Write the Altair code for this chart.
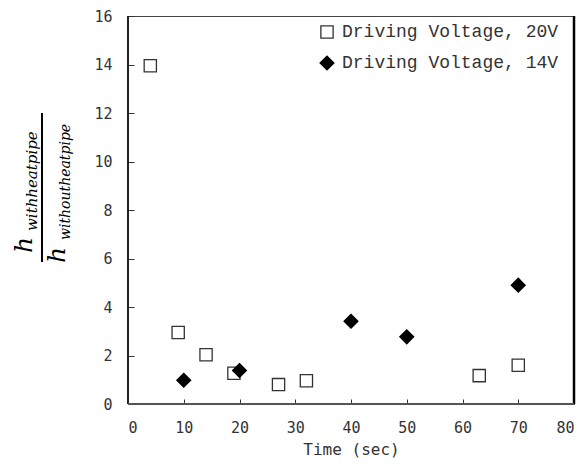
import altair as alt
import pandas as pd

# ---- data ----
time_20v = [4, 9, 14, 19, 27, 32, 63, 70]
ratio_20v = [13.95, 2.95, 2.03, 1.27, 0.80, 0.96, 1.17, 1.60]
time_14v = [10, 20, 40, 50, 70]
ratio_14v = [0.98, 1.38, 3.41, 2.77, 4.90]
series_labels = ["Driving Voltage, 20V", "Driving Voltage, 14V"]
x_ticks = list(range(0, 81, 10))
y_ticks = list(range(0, 17, 2))

df = pd.DataFrame({
    "time": time_20v + time_14v,
    "ratio": ratio_20v + ratio_14v,
    "series": [series_labels[0]] * len(time_20v) + [series_labels[1]] * len(time_14v),
})

W, H = 446, 388
TOP = 8

x_enc = alt.X("time:Q", scale=alt.Scale(domain=[0, 80], nice=False),
              axis=alt.Axis(values=x_ticks, title="Time (sec)", grid=False, domain=False,
                            orient="bottom", offset=-5, tickSize=5, tickColor="#333",
                            labelPadding=16, labelFont="DejaVu Sans Mono", labelFontSize=15,
                            labelColor="#333", titleFont="DejaVu Sans Mono", titleFontSize=16,
                            titleFontWeight="normal", titleColor="#333", titlePadding=6))
y_enc = alt.Y("ratio:Q", scale=alt.Scale(domain=[0, 16], nice=False),
              axis=alt.Axis(values=y_ticks, title=None, grid=False, domain=False,
                            orient="left", offset=-6, tickSize=6, tickColor="#333",
                            labelPadding=16, labelFont="DejaVu Sans Mono", labelFontSize=15,
                            labelColor="#333"))

points = alt.Chart(df).mark_point(filled=True, opacity=1, strokeWidth=1.3).encode(
    x=x_enc,
    y=y_enc,
    shape=alt.Shape("series:N", scale=alt.Scale(domain=series_labels, range=["square", "diamond"]),
                    legend=alt.Legend(title=None)),
    fill=alt.Fill("series:N", scale=alt.Scale(domain=series_labels, range=["white", "black"]),
                  legend=alt.Legend(title=None)),
    stroke=alt.Stroke("series:N", scale=alt.Scale(domain=series_labels, range=["#333333", "black"]),
                      legend=alt.Legend(title=None)),
    size=alt.Size("series:N", scale=alt.Scale(domain=series_labels, range=[150, 190]),
                  legend=alt.Legend(title=None)),
)

one = pd.DataFrame({"k": [0]})


def label_text(s, x, y, size):
    return alt.Chart(one).mark_text(
        text=s, angle=270, align="left", baseline="alphabetic",
        font="DejaVu Serif", fontStyle="italic", fontSize=size, color="black"
    ).encode(x=alt.value(x), y=alt.value(y))


OX, OY = 8 + 120, 8 + TOP  # page offset of the plot origin
DX = 4
num_h = label_text("h", 28 + DX - OX, 253 - OY, 25)
num_sub = label_text("withheatpipe", 33 + DX - OX, 231 - OY, 15)
den_h = label_text("h", 61 + DX - OX, 263 - OY, 25)
den_sub = label_text("withoutheatpipe", 66 + DX - OX, 240 - OY, 14)
frac_line = alt.Chart(one).mark_rule(color="black", strokeWidth=2).encode(
    x=alt.value(38 + DX - OX), y=alt.value(113 - OY), y2=alt.value(262 - OY))

left_line = alt.Chart(one).mark_rule(color="#222", strokeWidth=2).encode(
    x=alt.value(0), y=alt.value(0), y2=alt.value(H))
right_line = alt.Chart(one).mark_rule(color="black", strokeWidth=2.5).encode(
    x=alt.value(W), y=alt.value(0), y2=alt.value(H))
bottom_line = alt.Chart(one).mark_rule(color="#555", strokeWidth=2).encode(
    x=alt.value(0), x2=alt.value(W), y=alt.value(H))

chart = alt.layer(
    points, left_line, right_line, bottom_line,
    num_h, num_sub, frac_line, den_h, den_sub,
).properties(
    width=W, height=H,
    padding={"left": 120, "top": TOP, "right": 4, "bottom": 58},
    autosize="none",
).configure_view(
    stroke="#444", strokeWidth=1
).configure_legend(
    orient="none", legendX=190, legendY=7, padding=0,
    labelFont="Liberation Mono", labelFontSize=18, labelColor="#333", labelLimit=0,
    rowPadding=12, labelOffset=6, symbolStrokeWidth=1.3,
)

chart.save("out.html", embed_options={"renderer": "svg", "actions": False})
